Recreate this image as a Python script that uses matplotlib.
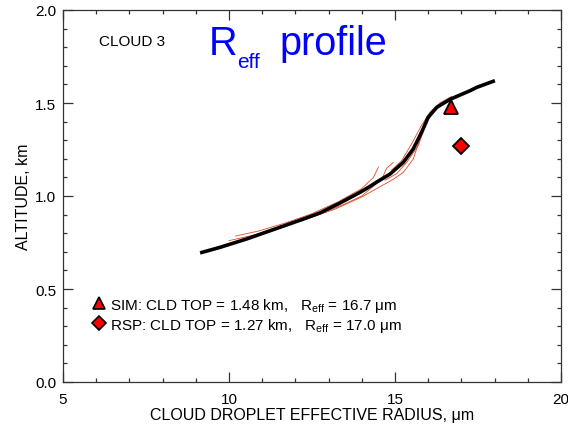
import numpy as np
import matplotlib
matplotlib.use('Agg')
import matplotlib.pyplot as plt
from matplotlib.lines import Line2D
from matplotlib.ticker import MultipleLocator

plt.rcParams['font.family'] = ['Liberation Sans', 'DejaVu Sans']
plt.rcParams['mathtext.fontset'] = 'custom'
plt.rcParams['mathtext.rm'] = 'Liberation Sans'
plt.rcParams['mathtext.it'] = 'Liberation Sans:italic'
plt.rcParams['mathtext.default'] = 'regular'

# mean retrieved profile (thick black)
reff_mean = [9.13, 9.73, 10.53, 11.33, 12.24, 12.74, 13.34, 13.95, 14.14, 14.45, 14.85,
             15.25, 15.55, 15.80, 16.0, 16.26, 16.66, 17.26, 17.46, 18.01]
alt_mean = [0.694, 0.724, 0.769, 0.819, 0.876, 0.909, 0.962, 1.02, 1.04, 1.075, 1.118,
            1.181, 1.253, 1.342, 1.423, 1.477, 1.52, 1.566, 1.584, 1.62]

# individual profiles (thin red)
reff_a = [10.2, 10.9, 11.7, 12.5, 13.3, 14.0, 14.35, 14.5]
alt_a = [0.785, 0.812, 0.855, 0.905, 0.97, 1.04, 1.10, 1.155]
reff_b = [10.0, 10.8, 11.6, 12.4, 13.2, 14.0, 14.5, 14.95, 15.25, 15.55, 15.75, 15.95, 16.15, 16.5, 16.8]
alt_b = [0.760, 0.792, 0.835, 0.880, 0.930, 0.995, 1.045, 1.09, 1.127, 1.199, 1.306, 1.40, 1.46, 1.51, 1.535]
reff_c = [12.6, 13.4, 14.0, 14.3, 14.6, 14.75, 14.95]
alt_c = [0.895, 0.950, 1.00, 1.045, 1.09, 1.15, 1.18]
reff_d = [14.9, 15.2, 15.4, 15.5, 15.65, 15.8, 16.05, 16.35, 16.7]
alt_d = [1.14, 1.19, 1.25, 1.28, 1.33, 1.38, 1.45, 1.50, 1.535]
reff_e = [14.7, 15.05, 15.35, 15.7, 15.95, 16.2]
alt_e = [1.085, 1.12, 1.18, 1.27, 1.396, 1.47]

# cloud top retrievals
sim_reff, sim_top = 16.7, 1.48
rsp_reff, rsp_top = 17.0, 1.27

fig = plt.figure(figsize=(5.68, 4.27), dpi=100)
ax = fig.add_axes([63 / 568, 1 - 383 / 427, 498 / 568, 372 / 427])

red = '#dd4a2a'
for xs, ys in [(reff_a, alt_a), (reff_b, alt_b), (reff_c, alt_c), (reff_d, alt_d), (reff_e, alt_e)]:
    ax.plot(xs, ys, color=red, lw=0.6)
ax.plot(reff_mean, alt_mean, color='black', lw=2.6, solid_capstyle='butt')

ax.plot([sim_reff], [sim_top], marker='^', ms=10, color='red', mec='black', mew=1.3, ls='none')
ax.plot([rsp_reff], [rsp_top], marker='D', ms=8.5, color='red', mec='black', mew=1.3, ls='none')

ax.set_xlim(5, 20)
ax.set_ylim(0, 2)
ax.xaxis.set_major_locator(MultipleLocator(5))
ax.xaxis.set_minor_locator(MultipleLocator(1))
ax.yaxis.set_major_locator(MultipleLocator(0.5))
ax.yaxis.set_minor_locator(MultipleLocator(0.1))
ax.yaxis.set_major_formatter(matplotlib.ticker.FormatStrFormatter('%.1f'))
ax.tick_params(which='both', direction='in', top=True, right=True, color='#333333', labelsize=11)
ax.tick_params(which='major', length=7, width=0.9)
ax.tick_params(which='minor', length=3, width=0.9)
ax.tick_params(axis='x', pad=7)
ax.tick_params(axis='y', pad=5)
for s in ax.spines.values():
    s.set_color('#333333')
    s.set_linewidth(0.9)

ax.set_xlabel('CLOUD DROPLET EFFECTIVE RADIUS, μm', fontsize=11.5, labelpad=1)
ax.set_ylabel('ALTITUDE, km', fontsize=11.5, labelpad=3)

ax.text(0.073, 0.905, 'CLOUD 3', transform=ax.transAxes, fontsize=11, va='baseline')

# title built from pieces so the subscript can be set small
ax.text(0.2918, 0.882, 'R', transform=ax.transAxes, fontsize=28.5, color='blue', va='baseline')
ax.text(0.350, 0.8476, 'eff', transform=ax.transAxes, fontsize=15, color='blue', va='baseline')
ax.text(0.4343, 0.882, 'profile', transform=ax.transAxes, fontsize=28.5, color='blue', va='baseline')

handles = [
    Line2D([], [], marker='^', ms=8, color='red', mec='black', mew=1.2, ls='none'),
    Line2D([], [], marker='D', ms=7, color='red', mec='black', mew=1.2, ls='none'),
]
labels = [
    'SIM: CLD TOP = %.2f km,   R$_{eff}$ = %.1f μm' % (sim_top, sim_reff),
    'RSP: CLD TOP = %.2f km,   R$_{eff}$ = %.1f μm' % (rsp_top, rsp_reff),
]
ax.legend(handles, labels, loc='upper left', bbox_to_anchor=(0.063, 0.232), frameon=False,
          fontsize=11, handlelength=0.6, handletextpad=0.4, labelspacing=0.12,
          borderpad=0, borderaxespad=0)

fig.savefig('out.png', dpi=100)
